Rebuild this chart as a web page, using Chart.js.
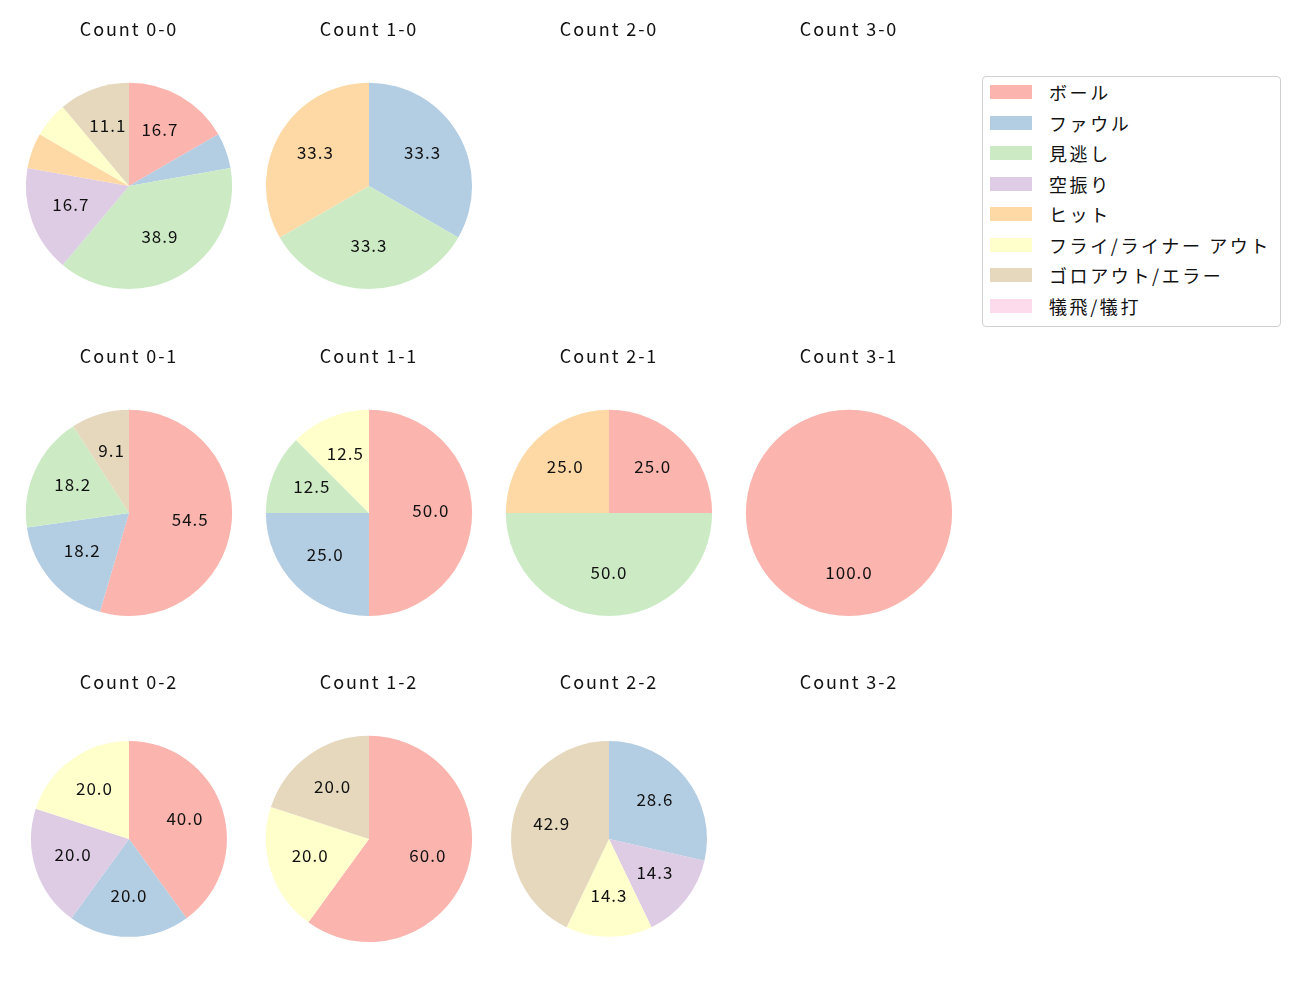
<!DOCTYPE html>
<html>
<head>
<meta charset="utf-8">
<script src="https://cdn.jsdelivr.net/npm/chart.js@4.4.1/dist/chart.umd.min.js"></script>
<style>
    body { margin: 0; background: #fff; font-family: "Noto Sans CJK JP", sans-serif; }
    .pie { position: absolute; width: 240px; height: 279px; }
    #legend {
        position: absolute; left: 982px; top: 76px; width: 297px; height: 249px;
        border: 1px solid #d0d0d0; border-radius: 4px; background: #fff;
    }
    .item { position: absolute; left: 7px; height: 20px; display: flex; align-items: center; font-size: 18px; letter-spacing: 2.6px; color: #111; white-space: nowrap; }
    .swatch { width: 42px; height: 14px; margin-right: 17px; }
</style>
</head>
<body>
<div id="legend"></div>

<script>
const categories = ['ボール', 'ファウル', '見逃し', '空振り', 'ヒット', 'フライ/ライナー アウト', 'ゴロアウト/エラー', '犠飛/犠打'];
const colors = ['#fbb4ae', '#b3cde3', '#ccebc5', '#decbe4', '#fed9a6', '#ffffcc', '#e5d8bd', '#fddaec'];

// counts per category, in the order of categories
const count00 = [3, 1, 7, 3, 1, 1, 2, 0];
const count10 = [0, 1, 1, 0, 1, 0, 0, 0];
const count20 = [0, 0, 0, 0, 0, 0, 0, 0];
const count30 = [0, 0, 0, 0, 0, 0, 0, 0];
const count01 = [6, 2, 2, 0, 0, 0, 1, 0];
const count11 = [4, 2, 1, 0, 0, 1, 0, 0];
const count21 = [1, 0, 2, 0, 1, 0, 0, 0];
const count31 = [1, 0, 0, 0, 0, 0, 0, 0];
const count02 = [2, 1, 0, 1, 0, 1, 0, 0];
const count12 = [3, 0, 0, 0, 0, 1, 1, 0];
const count22 = [0, 2, 0, 1, 0, 1, 3, 0];
const count32 = [0, 0, 0, 0, 0, 0, 0, 0];

const titles = ['Count 0-0', 'Count 1-0', 'Count 2-0', 'Count 3-0',
                'Count 0-1', 'Count 1-1', 'Count 2-1', 'Count 3-1',
                'Count 0-2', 'Count 1-2', 'Count 2-2', 'Count 3-2'];
const allCounts = [count00, count10, count20, count30,
                   count01, count11, count21, count31,
                   count02, count12, count22, count32];

// layout
const colCenters = [129, 369, 609, 849];
const rowTops = [10, 337, 663];
const radii = ['100%', '100%', '100%', '100%', '100%', '100%', '100%', '100%', '95%', '100%', '95%', '100%'];

// wider letter spacing for the title text, reset afterwards
const spacingPlugin = {
    id: 'spacing',
    beforeDraw: function (chart) { chart.ctx.letterSpacing = '1.9px'; },
    afterDraw: function (chart) { chart.ctx.letterSpacing = '0px'; }
};

// percentage labels inside the slices (like autopct)
const pctLabelPlugin = {
    id: 'pctLabel',
    afterDatasetsDraw: function (chart) {
        const ctx = chart.ctx;
        const data = chart.data.datasets[0].data;
        const total = data.reduce((s, v) => s + v, 0);
        if (!total) return;
        const meta = chart.getDatasetMeta(0);
        ctx.save();
        ctx.font = '17px "Noto Sans CJK JP", sans-serif';
        ctx.letterSpacing = '1px';
        ctx.fillStyle = '#111';
        ctx.textAlign = 'center';
        ctx.textBaseline = 'middle';
        meta.data.forEach((arc, i) => {
            const pct = data[i] / total * 100;
            if (pct < 8) return;
            const p = arc.getProps(['x', 'y', 'startAngle', 'endAngle', 'outerRadius'], true);
            const mid = (p.startAngle + p.endAngle) / 2;
            const r = p.outerRadius * 0.6;
            ctx.fillText(pct.toFixed(1), p.x + Math.cos(mid) * r, p.y + Math.sin(mid) * r - 2.5);
        });
        ctx.restore();
    }
};

allCounts.forEach((counts, idx) => {
    const div = document.createElement('div');
    div.className = 'pie';
    div.style.left = (colCenters[idx % 4] - 120) + 'px';
    div.style.top = rowTops[Math.floor(idx / 4)] + 'px';
    const canvas = document.createElement('canvas');
    div.appendChild(canvas);
    document.body.appendChild(div);

    new Chart(canvas.getContext('2d'), {
        type: 'pie',
        data: {
            labels: categories,
            datasets: [{
                data: counts,
                backgroundColor: colors,
                borderWidth: 0
            }]
        },
        options: {
            responsive: true,
            maintainAspectRatio: false,
            animation: false,
            radius: radii[idx],
            layout: { padding: 0 },
            plugins: {
                legend: { display: false },
                tooltip: { enabled: false },
                title: {
                    display: true,
                    text: titles[idx],
                    color: '#111',
                    font: { family: '"Noto Sans CJK JP", sans-serif', size: 18, weight: 'normal', lineHeight: 1.1 },
                    padding: { top: 9, bottom: 44 }
                }
            }
        },
        plugins: [spacingPlugin, pctLabelPlugin]
    });
});

// figure legend
const legend = document.getElementById('legend');
categories.forEach((name, i) => {
    const item = document.createElement('div');
    item.className = 'item';
    item.style.top = (5 + i * 30.5) + 'px';
    item.innerHTML = '<span class="swatch" style="background:' + colors[i] + '"></span><span>' + name + '</span>';
    legend.appendChild(item);
});
</script>
</body>
</html>
